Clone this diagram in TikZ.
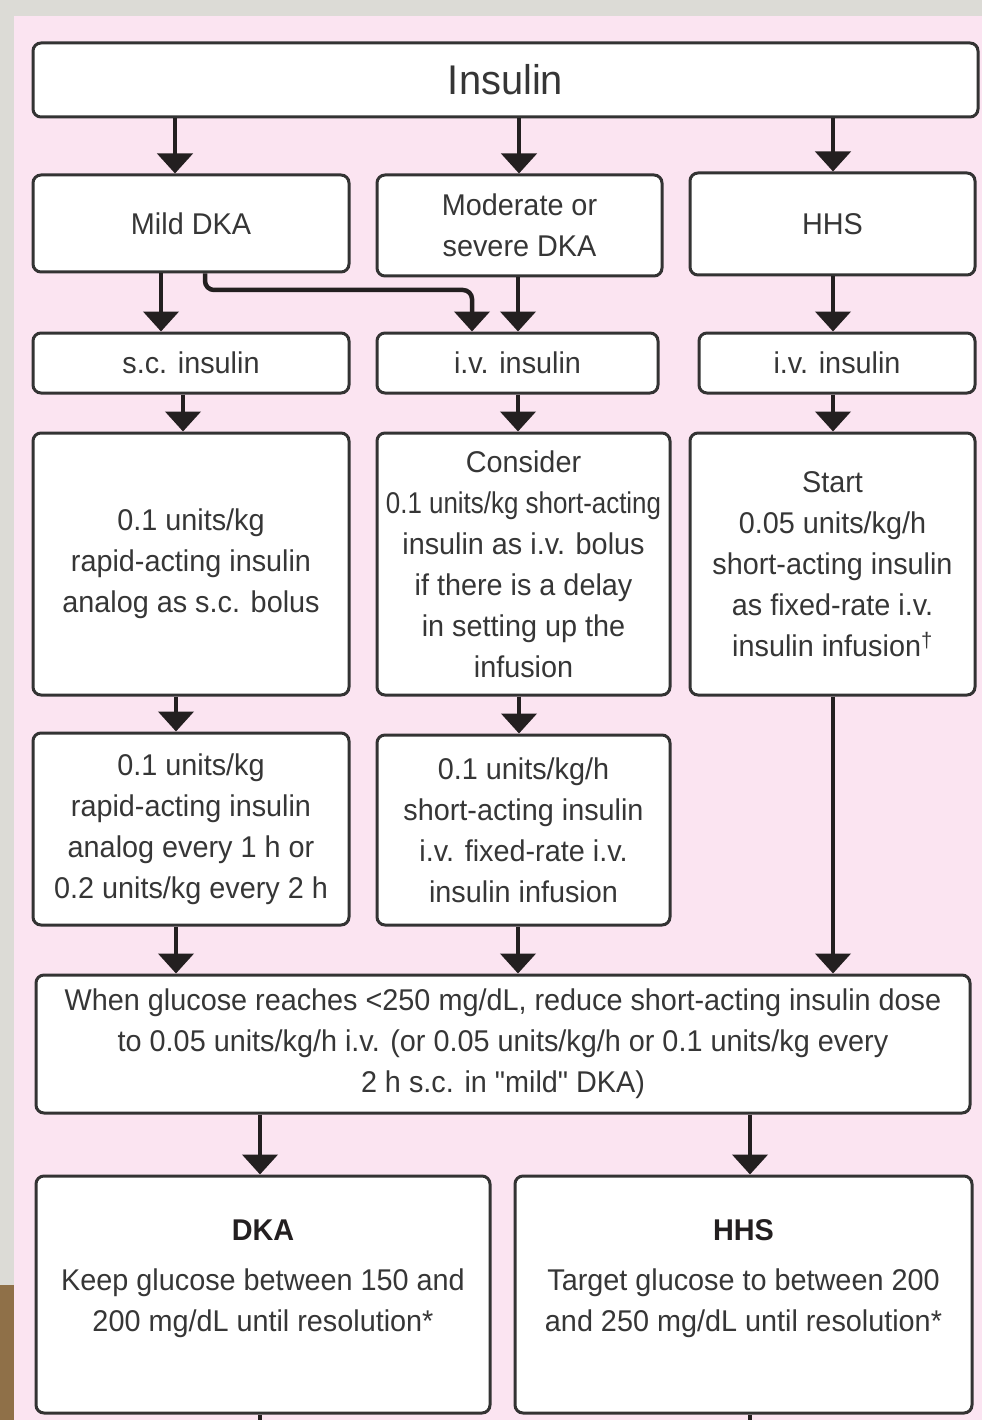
\documentclass[tikz,border=0pt]{standalone}
\usepackage{fontspec}
\setmainfont{Liberation Sans}[FakeStretch=0.96]
\newfontfamily\plainq{Liberation Sans}[FakeStretch=0.96]
\usetikzlibrary{arrows.meta,calc}
\definecolor{graybg}{HTML}{DCDBD6}
\definecolor{pinkbg}{HTML}{FBE4F1}
\definecolor{brownbg}{HTML}{8F7048}
\definecolor{boxc}{HTML}{333333}
\definecolor{arrc}{HTML}{231F20}
\definecolor{txt}{HTML}{363636}
\begin{document}
\begin{tikzpicture}[x=1pt,y=-1pt,
  box/.style={draw=boxc, line width=3pt, fill=white, rounded corners=8pt,
    inner sep=0pt, align=center, text=txt,
    font=\fontsize{30}{41}\selectfont},
  arr/.style={draw=arrc, line width=4.5pt, -{Triangle[width=35pt,length=20pt]}},
  stub/.style={draw=arrc, line width=4.5pt}]
% background
\path[fill=graybg] (0,0) rectangle (982,1420);
\path[fill=pinkbg] (14,16) rectangle (982,1420);
\path[fill=brownbg] (0,1285) rectangle (14,1420);
\useasboundingbox (0,0) rectangle (982,1420);

% boxes
\node[box, minimum width=945pt, minimum height=74pt, font=\fontsize{41.5}{50}\selectfont] (ins) at (505.5,80) {Insulin};
\node[box, minimum width=316pt, minimum height=97pt] (mild) at (191,223.5) {Mild DKA};
\node[box, minimum width=285pt, minimum height=101pt] (mod) at (519.5,225.5) {Moderate or\\severe DKA};
\node[box, minimum width=285pt, minimum height=102pt] (hhs) at (832.5,224) {HHS};
\node[box, minimum width=316pt, minimum height=60pt] (sc) at (191,363) {s.c. insulin};
\node[box, minimum width=281pt, minimum height=60pt] (iva) at (517.5,363) {i.v. insulin};
\node[box, minimum width=276pt, minimum height=60pt] (ivb) at (837,363) {i.v. insulin};
\node[box, minimum width=316pt, minimum height=262pt] (ba) at (191,564) {0.1 units/kg\\rapid-acting insulin\\analog as s.c. bolus};
\node[box, minimum width=293pt, minimum height=262pt] (bb) at (523.5,564) {Consider\\\scalebox{0.9}[1]{0.1 units/kg short-acting}\\insulin as i.v. bolus\\if there is a delay\\in setting up the\\infusion};
\node[box, minimum width=285pt, minimum height=262pt] (bc) at (832.5,564) {Start\\0.05 units/kg/h\\short-acting insulin\\as fixed-rate i.v.\\insulin infusion\textsuperscript{†}};
\node[box, minimum width=316pt, minimum height=192pt] (ca) at (191,829) {0.1 units/kg\\rapid-acting insulin\\analog every 1 h or\\0.2 units/kg every 2 h};
\node[box, minimum width=293pt, minimum height=190pt] (cb) at (523.5,830) {0.1 units/kg/h\\short-acting insulin\\i.v. fixed-rate i.v.\\insulin infusion};
\node[box, minimum width=934pt, minimum height=138pt] (when) at (503,1044) {When glucose reaches <250 mg/dL, reduce short-acting insulin dose\\to 0.05 units/kg/h i.v. (or 0.05 units/kg/h or 0.1 units/kg every\\2 h s.c. in {\plainq"}mild{\plainq"} DKA)};
\node[box, minimum width=454pt, minimum height=237pt] (dka) at (263,1294.5) {};
\node[box, minimum width=457pt, minimum height=237pt] (hhsb) at (743.5,1294.5) {};
\node[align=center, text=txt, font=\fontsize{30}{41}\selectfont, anchor=north, inner sep=0pt] (dkat) at ($(dka.north)+(0,45)$) {{\color{arrc}\bfseries DKA}\\[9pt]Keep glucose between 150 and\\200 mg/dL until resolution*};
\node[align=center, text=txt, font=\fontsize{30}{41}\selectfont, anchor=north, inner sep=0pt] (hhst) at ($(hhsb.north)+(0,45)$) {{\color{arrc}\bfseries HHS}\\[9pt]Target glucose to between 200\\and 250 mg/dL until resolution*};

% column helpers
\foreach \n/\xx in {x175/175,x519/519,x833/833,x161/161,x205/205,x472/472,x518/518,x183/183,x176/176,x260/260,x750/750}
  \coordinate (\n) at (\xx,0);
\coordinate (j) at (472,290);
\coordinate (ea) at (260,1420);
\coordinate (eb) at (750,1420);

% connectors
\draw[arr] (ins.south -| x175) -- (mild.north -| x175);
\draw[arr] (ins.south -| x519) -- (mod.north -| x519);
\draw[arr] (ins.south -| x833) -- (hhs.north -| x833);
\draw[arr] (mild.south -| x161) -- (sc.north -| x161);
\draw[arr, rounded corners=9pt] (mild.south -| x205) |- (j) -- (iva.north -| x472);
\draw[arr] (mod.south -| x518) -- (iva.north -| x518);
\draw[arr] (hhs.south -| x833) -- (ivb.north -| x833);
\draw[arr] (sc.south -| x183) -- (ba.north -| x183);
\draw[arr] (iva.south -| x518) -- (bb.north -| x518);
\draw[arr] (ivb.south -| x833) -- (bc.north -| x833);
\draw[arr] (ba.south -| x176) -- (ca.north -| x176);
\draw[arr] (bb.south -| x519) -- (cb.north -| x519);
\draw[arr] (bc.south -| x833) -- (when.north -| x833);
\draw[arr] (ca.south -| x176) -- (when.north -| x176);
\draw[arr] (cb.south -| x518) -- (when.north -| x518);
\draw[arr] (when.south -| x260) -- (dka.north -| x260);
\draw[arr] (when.south -| x750) -- (hhsb.north -| x750);
\draw[stub] (dka.south -| x260) -- (ea);
\draw[stub] (hhsb.south -| x750) -- (eb);
\end{tikzpicture}
\end{document}
